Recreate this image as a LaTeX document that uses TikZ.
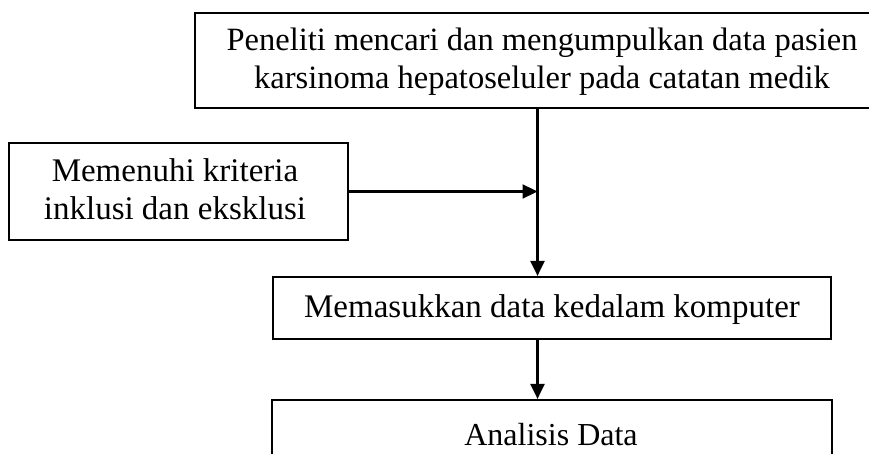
\documentclass[tikz,border=0pt]{standalone}
\usepackage{fontspec}
\setmainfont{Liberation Serif}
\usetikzlibrary{arrows.meta}
\begin{document}
\begin{tikzpicture}[x=1pt,y=-1pt,
  box/.style={draw,line width=2.2pt,inner sep=0pt,rectangle},
  lbl/.style={align=center,inner sep=0pt},
  conn/.style={line width=2.2pt,-{Triangle[length=15pt,width=14pt]}}]
\useasboundingbox (0,0) rectangle (869,454);
\clip (0,0) rectangle (869,454);
% boxes
\node[box,minimum width=685pt,minimum height=95pt] (top) at (537.5,60.5) {};
\node[box,minimum width=339pt,minimum height=97pt] (left) at (178.5,191.5) {};
\node[box,minimum width=558pt,minimum height=62pt] (mid) at (552,308) {};
\node[box,minimum width=560pt,minimum height=70pt] (bot) at (552,435) {};
% texts
\node[lbl,font=\fontsize{32.5}{38}\selectfont] (toptxt) at (542,62) {Peneliti mencari dan mengumpulkan data pasien\\karsinoma hepatoseluler pada catatan medik};
\node[lbl,font=\fontsize{33}{38}\selectfont] (lefttxt) at (175,189) {Memenuhi kriteria\\inklusi dan eksklusi};
\node[lbl,font=\fontsize{33}{38}\selectfont] (midtxt) at (552,310) {Memasukkan data kedalam komputer};
\node[lbl,font=\fontsize{32}{38}\selectfont] (bottxt) at (551,435) {Analisis Data};
% connectors
\draw[conn] (top.south) -- (top.south |- mid.north);
\draw[conn] (left.east) -- (left.east -| top.south);
\draw[conn] (top.south |- mid.south) -- (top.south |- bot.north);
\end{tikzpicture}
\end{document}
